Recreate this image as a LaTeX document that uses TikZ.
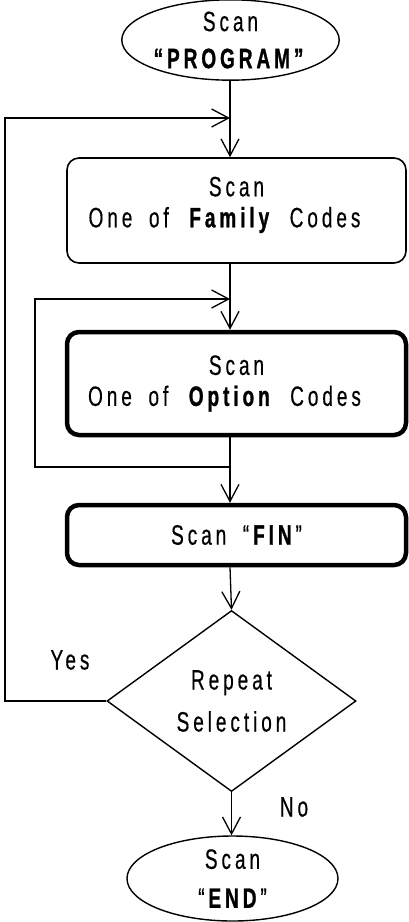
\documentclass[tikz,border=0pt]{standalone}
\usepackage{fontspec}
\setmainfont{Liberation Sans}[FakeStretch=0.68, LetterSpace=14, WordSpace=1.8, UprightFeatures={FakeBold=0.4}, BoldFeatures={FakeBold=1.0}]
\usetikzlibrary{shapes.geometric,arrows.meta}
\begin{document}
\begin{tikzpicture}[x=1pt,y=-1pt,
  every node/.style={font=\fontsize{28pt}{31pt}\selectfont, inner sep=0pt, align=center},
  thin line/.style={line width=1.3pt},
  arr/.style={thin line, -{Straight Barb[length=17pt,width=18pt]}},
  terminal/.style={draw, ellipse, line width=1.4pt, minimum width=211pt},
  boxthin/.style={draw, rounded corners=12pt, line width=1.6pt, minimum width=339pt},
  boxthick/.style={draw, rounded corners=12pt, line width=4.5pt, minimum width=339pt},
  decision/.style={draw, diamond, line width=1.4pt, minimum width=249pt, minimum height=181pt, aspect=1.376},
  lbl/.style={}]
\useasboundingbox (0,0) rectangle (409,922);
\node[terminal, minimum height=78pt] (start) at (230.5,40) {Scan\\[6pt]\textbf{“PROGRAM”}};
\node[boxthin, minimum height=105pt, text depth=17pt] (box1) at (236.5,210.5) {Scan\\One of \textbf{Family} Codes\kern24pt};
\node[boxthick, minimum height=103pt] (box2) at (236.5,383.5) {Scan\\One of \textbf{Option} Codes\kern24pt};
\node[boxthick, minimum height=60pt] (box3) at (236.5,535) {Scan “\textbf{FIN}”};
\node[decision] (dia) at (231.5,701) {Repeat\\[11pt]Selection};
\node[terminal, minimum height=85pt] (end) at (232.5,878.5) {Scan\\[8pt]“\textbf{END}”};
\node[lbl] (yes) at (70,660) {Yes};
\node[lbl] (no) at (294,807) {No};
\coordinate (axis) at (230,0);
\coordinate (j1) at (230,118);
\coordinate (j2) at (230,299);
\coordinate (j3) at (230,467);
\draw[arr] (start.south -| axis) -- (box1.north -| axis);
\draw[arr] (box1.south -| axis) -- (box2.north -| axis);
\draw[arr] (box2.south -| axis) -- (box3.north -| axis);
\draw[arr] (box3.south -| axis) -- (dia.north);
\draw[arr] (dia.south) -- (end.north -| dia.south);
\draw[arr] (dia.west) -- (5,701) |- (j1);
\draw[arr] (j3) -- (35,467) |- (j2);
\end{tikzpicture}
\end{document}
